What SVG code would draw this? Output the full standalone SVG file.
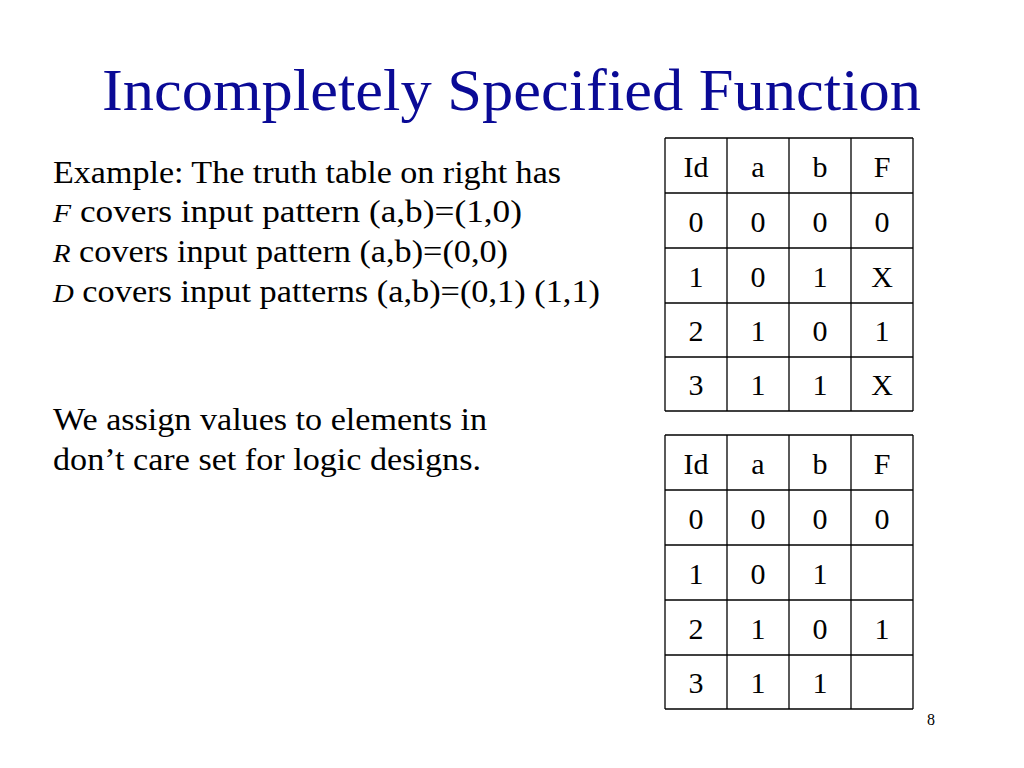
<svg xmlns="http://www.w3.org/2000/svg" width="1024" height="768" viewBox="0 0 1024 768">
<style>
text{font-family:"Liberation Serif",serif;fill:#000}
.t{font-size:31px}
.c{font-size:30px;text-anchor:middle}
.s{font-style:italic;font-size:26px}
line{stroke:#000;stroke-width:1.3}
</style>
<rect width="1024" height="768" fill="#fff"/>
<text x="102" y="110" textLength="819" lengthAdjust="spacingAndGlyphs" style="font-size:60px;fill:#0a0a96">Incompletely Specified Function</text>
<g id="text">
<text x="53" y="183" class="t" textLength="508" lengthAdjust="spacingAndGlyphs">Example: The truth table on right has</text>
<text x="53" y="222" class="t" textLength="469" lengthAdjust="spacingAndGlyphs"><tspan class="s">F</tspan> covers input pattern (a,b)=(1,0)</text>
<text x="53" y="262" class="t" textLength="455" lengthAdjust="spacingAndGlyphs"><tspan class="s">R</tspan> covers input pattern (a,b)=(0,0)</text>
<text x="53" y="302" class="t" textLength="547" lengthAdjust="spacingAndGlyphs"><tspan class="s">D</tspan> covers input patterns (a,b)=(0,1) (1,1)</text>
<text x="53" y="430" class="t" textLength="434" lengthAdjust="spacingAndGlyphs">We assign values to elements in</text>
<text x="53" y="470" class="t" textLength="428" lengthAdjust="spacingAndGlyphs">don’t care set for logic designs.</text>
</g>
<g id="table1">
<line x1="665" y1="138" x2="913" y2="138"/><line x1="665" y1="193" x2="913" y2="193"/><line x1="665" y1="248" x2="913" y2="248"/><line x1="665" y1="303" x2="913" y2="303"/><line x1="665" y1="357" x2="913" y2="357"/><line x1="665" y1="411" x2="913" y2="411"/>
<line x1="665" y1="138" x2="665" y2="411"/><line x1="727" y1="138" x2="727" y2="411"/><line x1="789" y1="138" x2="789" y2="411"/><line x1="851" y1="138" x2="851" y2="411"/><line x1="913" y1="138" x2="913" y2="411"/>
<text x="696" y="177" class="c">Id</text><text x="758" y="177" class="c">a</text><text x="820" y="177" class="c">b</text><text x="882" y="177" class="c">F</text>
<text x="696" y="232" class="c">0</text><text x="758" y="232" class="c">0</text><text x="820" y="232" class="c">0</text><text x="882" y="232" class="c">0</text>
<text x="696" y="287" class="c">1</text><text x="758" y="287" class="c">0</text><text x="820" y="287" class="c">1</text><text x="882" y="287" class="c">X</text>
<text x="696" y="341" class="c">2</text><text x="758" y="341" class="c">1</text><text x="820" y="341" class="c">0</text><text x="882" y="341" class="c">1</text>
<text x="696" y="395" class="c">3</text><text x="758" y="395" class="c">1</text><text x="820" y="395" class="c">1</text><text x="882" y="395" class="c">X</text>
</g>
<g id="table2">
<line x1="665" y1="435" x2="913" y2="435"/><line x1="665" y1="490" x2="913" y2="490"/><line x1="665" y1="545" x2="913" y2="545"/><line x1="665" y1="600" x2="913" y2="600"/><line x1="665" y1="655" x2="913" y2="655"/><line x1="665" y1="709" x2="913" y2="709"/>
<line x1="665" y1="435" x2="665" y2="709"/><line x1="727" y1="435" x2="727" y2="709"/><line x1="789" y1="435" x2="789" y2="709"/><line x1="851" y1="435" x2="851" y2="709"/><line x1="913" y1="435" x2="913" y2="709"/>
<text x="696" y="474" class="c">Id</text><text x="758" y="474" class="c">a</text><text x="820" y="474" class="c">b</text><text x="882" y="474" class="c">F</text>
<text x="696" y="529" class="c">0</text><text x="758" y="529" class="c">0</text><text x="820" y="529" class="c">0</text><text x="882" y="529" class="c">0</text>
<text x="696" y="584" class="c">1</text><text x="758" y="584" class="c">0</text><text x="820" y="584" class="c">1</text>
<text x="696" y="639" class="c">2</text><text x="758" y="639" class="c">1</text><text x="820" y="639" class="c">0</text><text x="882" y="639" class="c">1</text>
<text x="696" y="693" class="c">3</text><text x="758" y="693" class="c">1</text><text x="820" y="693" class="c">1</text>
</g>
<text x="931" y="725" style="font-size:16px;text-anchor:middle">8</text>
</svg>
